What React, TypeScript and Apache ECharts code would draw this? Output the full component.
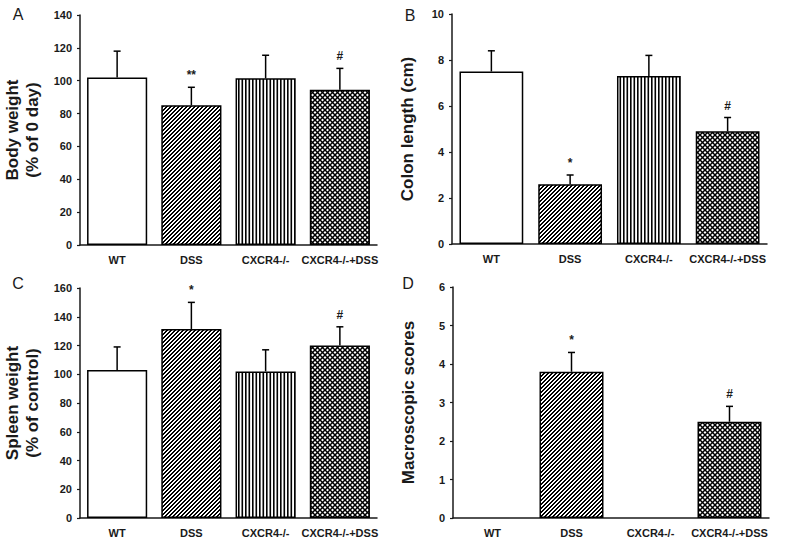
import React, { useEffect, useRef } from "react";
import * as echarts from "echarts";

const categories = ["WT", "DSS", "CXCR4-/-", "CXCR4-/-+DSS"];

const bodyWeight = [102, 85, 101.5, 94.5];
const bodyWeightErr = [16, 11, 14, 13];
const bodyWeightMarks = ["", "**", "", "#"];

const colonLength = [7.5, 2.6, 7.3, 4.9];
const colonLengthErr = [0.9, 0.4, 0.9, 0.6];
const colonLengthMarks = ["", "*", "", "#"];

const spleenWeight = [103, 131.5, 102, 120];
const spleenWeightErr = [16, 18.5, 15, 13];
const spleenWeightMarks = ["", "*", "", "#"];

const macroScores = [0, 3.8, 0, 2.5];
const macroScoresErr = [0, 0.5, 0, 0.4];
const macroScoresMarks = ["", "*", "", "#"];

const yTicksA = { min: 0, max: 140, interval: 20 };
const yTicksB = { min: 0, max: 10, interval: 2 };
const yTicksC = { min: 0, max: 160, interval: 20 };
const yTicksD = { min: 0, max: 6, interval: 1 };

const FONT = "'Liberation Sans', Arial, Helvetica, sans-serif";
const INK = "#1a1a1a";

function makePattern(kind: string) {
  const c = document.createElement("canvas");
  let w = 4, h = 4;
  if (kind === "vert") { w = 7; h = 4; }
  if (kind === "cross") { w = 10; h = 10; }
  c.width = w; c.height = h;
  const ctx = c.getContext("2d")!;
  ctx.fillStyle = "#fff";
  ctx.fillRect(0, 0, w, h);
  ctx.fillStyle = "#000";
  ctx.strokeStyle = "#000";
  if (kind === "diag") {
    for (let y = 0; y < h; y++) {
      for (let x = 0; x < w; x++) {
        const m = (x + y) % 4;
        if (m === 0 || m === 1) ctx.fillRect(x, y, 1, 1);
      }
    }
  } else if (kind === "vert") {
    ctx.fillRect(0, 0, 1.6, h);
    ctx.fillRect(3.5, 0, 1.6, h);
  } else {
    ctx.lineWidth = 1.5;
    for (let x0 = -10; x0 <= 10; x0 += 5) {
      ctx.beginPath();
      ctx.moveTo(x0, 10);
      ctx.lineTo(x0 + 10, 0);
      ctx.stroke();
      ctx.beginPath();
      ctx.moveTo(x0, 0);
      ctx.lineTo(x0 + 10, 10);
      ctx.stroke();
    }
  }
  return { image: c, repeat: "repeat", imageWidth: w, imageHeight: h } as any;
}

export default function App() {
  const ref = useRef<HTMLDivElement>(null);
  useEffect(() => {
    if (!ref.current) return;
    const chart = echarts.init(ref.current, null, { renderer: "svg" });
    const fills = ["#ffffff", makePattern("diag"), makePattern("vert"), makePattern("cross")];

    const grids = [
      { left: 80, top: 15, width: 297, height: 230 },
      { left: 452, top: 14, width: 315, height: 230 },
      { left: 80, top: 288, width: 297, height: 230 },
      { left: 453, top: 287, width: 316, height: 231 },
    ];
    const panels = [
      { vals: bodyWeight, err: bodyWeightErr, marks: bodyWeightMarks, ticks: yTicksA, name: "Body weight\n(% of 0 day)", gap: 38 },
      { vals: colonLength, err: colonLengthErr, marks: colonLengthMarks, ticks: yTicksB, name: "Colon length (cm)", gap: 35 },
      { vals: spleenWeight, err: spleenWeightErr, marks: spleenWeightMarks, ticks: yTicksC, name: "Spleen weight\n(% of control)", gap: 38 },
      { vals: macroScores, err: macroScoresErr, marks: macroScoresMarks, ticks: yTicksD, name: "Macroscopic scores", gap: 35 },
    ];

    const xAxis = panels.map((_, i) => ({
      type: "category",
      gridIndex: i,
      data: categories,
      axisTick: { show: false },
      axisLine: { show: true, lineStyle: { color: INK, width: 1.5 } },
      axisLabel: { color: INK, fontFamily: FONT, fontWeight: "bold", fontSize: 11, margin: 9, interval: 0 },
    }));
    const yAxis = panels.map((p, i) => ({
      type: "value",
      gridIndex: i,
      min: p.ticks.min,
      max: p.ticks.max,
      interval: p.ticks.interval,
      splitLine: { show: false },
      axisLine: { show: true, lineStyle: { color: INK, width: 1.5 } },
      axisTick: { show: true, inside: false, length: 3, lineStyle: { color: INK, width: 1.2 } },
      axisLabel: { color: INK, fontFamily: FONT, fontWeight: "bold", fontSize: 11, margin: 8 },
      name: p.name,
      nameLocation: "middle",
      nameGap: p.gap,
      nameTextStyle: { color: INK, fontFamily: FONT, fontWeight: "bold", fontSize: 17, lineHeight: 20 },
    }));

    const series: any[] = [];
    panels.forEach((p, i) => {
      series.push({
        type: "bar",
        xAxisIndex: i,
        yAxisIndex: i,
        barCategoryGap: "19%",
        data: p.vals.map((v, k) => ({
          value: v,
          itemStyle: { color: fills[k], borderColor: "#000", borderWidth: v === 0 ? 0 : 1.5 },
        })),
        z: 2,
      });
      series.push({
        type: "custom",
        xAxisIndex: i,
        yAxisIndex: i,
        z: 3,
        clip: false,
        encode: { x: 0, y: [1, 2] },
        data: p.vals.map((v, k) => [k, v, v + p.err[k]]),
        renderItem: (params: any, api: any) => {
          const k = api.value(0);
          const mean = api.value(1);
          const top = api.value(2);
          if (top <= mean) return { type: "group", children: [] };
          const b = api.coord([k, mean]);
          const t = api.coord([k, top]);
          const mark = p.marks[params.dataIndex];
          const children: any[] = [
            { type: "line", shape: { x1: b[0], y1: b[1], x2: t[0], y2: t[1] }, style: { stroke: "#000", lineWidth: 1.5 } },
            { type: "line", shape: { x1: t[0] - 3.5, y1: t[1], x2: t[0] + 3.5, y2: t[1] }, style: { stroke: "#000", lineWidth: 1.5 } },
          ];
          if (mark) {
            children.push({
              type: "text",
              x: t[0],
              y: t[1] - 6,
              style: { text: mark, fill: INK, font: `bold 12px ${FONT}`, textAlign: "center", textVerticalAlign: "bottom" },
            });
          }
          return { type: "group", children };
        },
      });
    });

    const letters = [
      { t: "A", x: 18, y: 14 },
      { t: "B", x: 410, y: 15 },
      { t: "C", x: 18, y: 283 },
      { t: "D", x: 408, y: 283 },
    ];

    chart.setOption({
      animation: false,
      backgroundColor: "#ffffff",
      grid: grids,
      xAxis,
      yAxis,
      series,
      graphic: letters.map((l) => ({
        type: "text",
        x: l.x,
        y: l.y,
        style: { text: l.t, fill: INK, font: `16px ${FONT}`, textAlign: "center", textVerticalAlign: "middle" },
      })),
    });
    return () => chart.dispose();
  }, []);
  return <div ref={ref} style={{ position: "absolute", left: 0, top: 0, width: 790, height: 546 }} />;
}
